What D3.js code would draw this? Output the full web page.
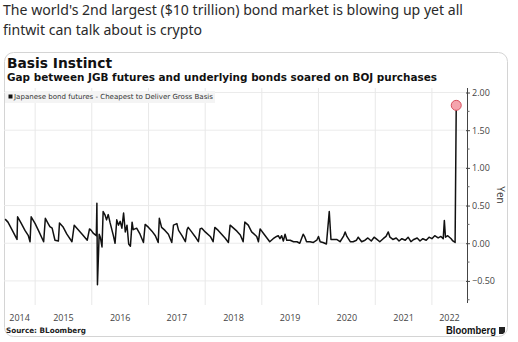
<!doctype html>
<html lang="en">
<head>
<meta charset="utf-8">
<title>Basis Instinct</title>
<script src="https://cdn.jsdelivr.net/npm/d3@7/dist/d3.min.js"></script>
<style>
  body { margin: 0; background: #fff; }
  svg { display: block; }
</style>
</head>
<body>
<script>

// Data: decimal years and CTD gross basis (yen)
var dates = [
  2014.47, 2014.52, 2014.59, 2014.68, 2014.69, 2014.75, 2014.82, 2014.88, 2014.91, 2014.93,
  2015.00, 2015.07, 2015.15, 2015.18, 2015.23, 2015.26, 2015.30, 2015.35, 2015.41, 2015.43,
  2015.49, 2015.56, 2015.65, 2015.69, 2015.76, 2015.83, 2015.92, 2015.96, 2015.99, 2016.03,
  2016.08, 2016.09, 2016.10, 2016.13, 2016.15, 2016.18, 2016.20, 2016.23, 2016.26, 2016.29,
  2016.32, 2016.35, 2016.38, 2016.41, 2016.44, 2016.47, 2016.50, 2016.53, 2016.56, 2016.59,
  2016.62, 2016.65, 2016.68, 2016.71, 2016.73, 2016.79, 2016.85, 2016.91, 2016.94, 2017.00,
  2017.06, 2017.12, 2017.17, 2017.19, 2017.23, 2017.29, 2017.35, 2017.41, 2017.44, 2017.50,
  2017.53, 2017.59, 2017.65, 2017.68, 2017.70, 2017.76, 2017.82, 2017.88, 2017.91, 2017.94,
  2018.00, 2018.09, 2018.14, 2018.17, 2018.23, 2018.29, 2018.35, 2018.41, 2018.44, 2018.50,
  2018.56, 2018.62, 2018.67, 2018.70, 2018.76, 2018.82, 2018.91, 2018.94, 2018.97, 2019.03,
  2019.09, 2019.14, 2019.20, 2019.26, 2019.29, 2019.32, 2019.35, 2019.38, 2019.41, 2019.44,
  2019.50, 2019.56, 2019.62, 2019.67, 2019.73, 2019.76, 2019.79, 2019.85, 2019.91, 2019.97,
  2020.00, 2020.03, 2020.08, 2020.14, 2020.19, 2020.22, 2020.26, 2020.32, 2020.38, 2020.44,
  2020.47, 2020.50, 2020.56, 2020.61, 2020.67, 2020.70, 2020.76, 2020.82, 2020.87, 2020.93,
  2020.98, 2021.03, 2021.08, 2021.14, 2021.19, 2021.23, 2021.26, 2021.31, 2021.37, 2021.42,
  2021.47, 2021.53, 2021.58, 2021.63, 2021.68, 2021.74, 2021.79, 2021.84, 2021.90, 2021.95,
  2022.00, 2022.05, 2022.11, 2022.16, 2022.20, 2022.22, 2022.24, 2022.28, 2022.34, 2022.37,
  2022.41, 2022.43
];

var basis = [
  0.32, 0.28, 0.18, 0.05, 0.35, 0.27, 0.17, 0.10, 0.02, 0.35,
  0.26, 0.15, 0.02, 0.33, 0.26, 0.22, 0.20, 0.04, 0.03, 0.27,
  0.22, 0.12, 0.02, 0.24, 0.18, 0.12, 0.04, 0.19, 0.17, 0.13,
  0.10, 0.53, -0.55, 0.12, 0.08, -0.05, 0.42, 0.38, 0.31, 0.38,
  0.28, 0.19, 0.10, 0.00, 0.31, 0.24, 0.29, 0.20, 0.40, 0.15,
  0.24, -0.01, -0.04, 0.28, 0.18, 0.20, 0.12, 0.01, 0.25, 0.21,
  0.16, 0.10, 0.01, 0.33, 0.21, 0.17, 0.12, 0.01, 0.24, 0.26,
  0.17, 0.10, 0.02, 0.18, 0.21, 0.15, 0.09, 0.02, 0.19, 0.20,
  0.15, 0.09, 0.02, 0.21, 0.17, 0.12, 0.07, 0.01, 0.24, 0.20,
  0.16, 0.11, 0.02, 0.28, 0.24, 0.15, 0.09, 0.02, 0.19, 0.13,
  0.07, 0.02, 0.06, 0.09, 0.10, 0.06, 0.10, 0.03, 0.12, 0.04,
  0.04, 0.02, 0.02, 0.00, 0.12, 0.08, 0.02, 0.02, 0.01, 0.04,
  0.09, 0.02, 0.01, -0.01, 0.42, 0.05, 0.05, 0.05, 0.02, 0.09,
  0.15, 0.09, 0.02, 0.02, 0.04, 0.08, 0.02, 0.04, 0.07, 0.03,
  0.08, 0.05, 0.02, 0.06, 0.09, 0.15, 0.08, 0.05, 0.07, 0.03,
  0.06, 0.04, 0.08, 0.02, 0.05, 0.07, 0.03, 0.06, 0.04, 0.08,
  0.06, 0.10, 0.07, 0.09, 0.06, 0.30, 0.08, 0.10, 0.06, 0.03,
  0.01, 1.83
];

var years = [2014, 2015, 2016, 2017, 2018, 2019, 2020, 2021, 2022];
var yTicks = [-0.5, 0, 0.5, 1, 1.5, 2];
var yMinorTicks = [-0.75, -0.25, 0.25, 0.75, 1.25, 1.75];

// Utilities
var toDate = function(y) {
  var yr = Math.floor(y);
  var start = new Date(yr, 0, 1), end = new Date(yr + 1, 0, 1);
  return new Date(+start + (y - yr) * (end - start));
};

var dataset = dates.map(function(d, i) {
  return { date: toDate(d), value: basis[i] };
});

// Graphics
var outerWidth = 518;
var outerHeight = 342;
var plot = { left: 4, right: 467, top: 88, bottom: 302 };

var svg = d3.select("body").append("svg")
  .attr("width", outerWidth)
  .attr("height", outerHeight)
  .style("font-family", "'DejaVu Sans', Verdana, sans-serif");

// Tweet text above the chart
var tweet = svg.append("g")
  .attr("font-family", "'Segoe UI', 'Noto Sans', sans-serif")
  .attr("font-size", "15px")
  .attr("fill", "#2a2a2a");
tweet.append("text").attr("x", 3).attr("y", 15)
  .attr("textLength", 460).attr("lengthAdjust", "spacingAndGlyphs")
  .text("The world's 2nd largest ($10 trillion) bond market is blowing up yet all");
tweet.append("text").attr("x", 3).attr("y", 35)
  .attr("textLength", 199).attr("lengthAdjust", "spacingAndGlyphs")
  .text("fintwit can talk about is crypto");

// Card frame
svg.append("rect")
  .attr("x", 4.5).attr("y", 52.5)
  .attr("width", 503).attr("height", 284)
  .attr("rx", 9)
  .attr("fill", "#fff")
  .attr("stroke", "#d4d4d4");

// Titles
svg.append("text").attr("x", 7).attr("y", 68)
  .attr("font-size", "14px").attr("font-weight", "bold").attr("fill", "#111")
  .attr("textLength", 105).attr("lengthAdjust", "spacingAndGlyphs")
  .text("Basis Instinct");
svg.append("text").attr("x", 7).attr("y", 80.5)
  .attr("font-size", "10px").attr("font-weight", "bold").attr("fill", "#111")
  .attr("textLength", 430).attr("lengthAdjust", "spacingAndGlyphs")
  .text("Gap between JGB futures and underlying bonds soared on BOJ purchases");

// Scale functions
var xScale = d3.scaleTime()
  .domain([toDate(2014.45), toDate(2022.62)])
  .range([plot.left, plot.right]);

var yScale = d3.scaleLinear()
  .domain([-0.78, 2.06])
  .range([plot.bottom, plot.top]);

// Grid
svg.append("g").selectAll("line")
  .data(yTicks)
  .enter().append("line")
  .attr("x1", plot.left).attr("x2", plot.right)
  .attr("y1", function(d) { return yScale(d); })
  .attr("y2", function(d) { return yScale(d); })
  .attr("stroke", "#ebebeb");

svg.append("g").selectAll("line")
  .data(years.slice(1))
  .enter().append("line")
  .attr("x1", function(d) { return xScale(new Date(d, 0, 1)); })
  .attr("x2", function(d) { return xScale(new Date(d, 0, 1)); })
  .attr("y1", plot.top).attr("y2", plot.bottom + 3)
  .attr("stroke", "#e8e8e8");

// Legend
svg.append("rect")
  .attr("x", 5).attr("y", 91).attr("width", 210).attr("height", 12)
  .attr("fill", "#f4f4f4");
svg.append("rect")
  .attr("x", 8.5).attr("y", 94.5).attr("width", 4).attr("height", 4)
  .attr("fill", "#111");
svg.append("text").attr("x", 14).attr("y", 99)
  .attr("font-size", "7px").attr("fill", "#333")
  .attr("textLength", 199).attr("lengthAdjust", "spacingAndGlyphs")
  .text("Japanese bond futures - Cheapest to Deliver Gross Basis");

// Line
var line = d3.line()
  .x(function(d) { return xScale(d.date); })
  .y(function(d) { return yScale(d.value); });

svg.append("path")
  .datum(dataset)
  .attr("d", line)
  .attr("fill", "none")
  .attr("stroke", "#111")
  .attr("stroke-width", 1.5)
  .attr("stroke-linejoin", "round");

var last = dataset[dataset.length - 1];
svg.append("circle")
  .attr("cx", xScale(last.date))
  .attr("cy", yScale(last.value))
  .attr("r", 5)
  .attr("fill", "#f5a4ad")
  .attr("stroke", "#d8505e")
  .attr("stroke-width", 1);

// Axis
var yAxis = d3.axisRight(yScale)
  .tickValues(yTicks)
  .tickSize(3)
  .tickPadding(2)
  .tickFormat(d3.format(".2f"));

var gy = svg.append("g")
  .attr("transform", "translate(" + plot.right + ",0)")
  .call(yAxis);
gy.select(".domain").attr("stroke", "#444").attr("d", "M0.5," + plot.top + "V" + (plot.bottom + 1));
gy.selectAll(".tick line").attr("stroke", "#444").attr("x1", -1);
gy.selectAll(".tick text")
  .attr("font-family", "'Open Sans', 'Noto Sans', sans-serif")
  .attr("font-size", "9px").attr("fill", "#444");

svg.append("g").selectAll("line")
  .data(yMinorTicks)
  .enter().append("line")
  .attr("x1", plot.right).attr("x2", plot.right + 2.5)
  .attr("y1", function(d) { return yScale(d); })
  .attr("y2", function(d) { return yScale(d); })
  .attr("stroke", "#666");

svg.append("text")
  .attr("transform", "translate(497,195) rotate(90)")
  .attr("text-anchor", "middle")
  .attr("font-family", "'Open Sans', 'Noto Sans', sans-serif")
  .attr("font-size", "10px").attr("fill", "#333")
  .text("Yen");

// Year labels centred in the visible part of each year
var d0 = xScale.domain()[0], d1 = xScale.domain()[1];
svg.append("g").selectAll("text")
  .data(years)
  .enter().append("text")
  .attr("x", function(d) {
    var a = Math.max(+new Date(d, 0, 1), +d0);
    var b = Math.min(+new Date(d + 1, 0, 1), +d1);
    return (xScale(new Date(a)) + xScale(new Date(b))) / 2;
  })
  .attr("y", 321)
  .attr("text-anchor", "middle")
  .attr("font-family", "'Open Sans', 'Noto Sans', sans-serif")
  .attr("font-size", "9px").attr("fill", "#444")
  .text(function(d) { return d; });

// Footer
svg.append("text").attr("x", 6).attr("y", 333)
  .attr("font-size", "7.5px").attr("font-weight", "bold").attr("fill", "#222")
  .attr("textLength", 80).attr("lengthAdjust", "spacingAndGlyphs")
  .text("Source: BLoomberg");
svg.append("text").attr("x", 496).attr("y", 334)
  .attr("text-anchor", "end")
  .attr("font-family", "'Liberation Sans', Arial, sans-serif")
  .attr("font-size", "10.5px").attr("font-weight", "bold").attr("fill", "#111")
  .attr("textLength", 50).attr("lengthAdjust", "spacingAndGlyphs")
  .text("Bloomberg");
svg.append("path")
  .attr("d", "M499,327h6v5l-2,2h-4z")
  .attr("fill", "#222");

</script>
</body>
</html>
